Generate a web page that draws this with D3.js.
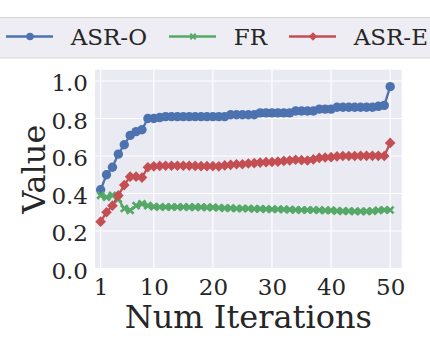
<!DOCTYPE html>
<html>
<head>
<meta charset="utf-8">
<script src="https://cdn.jsdelivr.net/npm/d3@7"></script>
<style>
  html, body { margin: 0; padding: 0; background: #fff; }
  svg { display: block; font-family: "DejaVu Serif", serif; }
</style>
</head>
<body>
<svg id="chart" width="430" height="344"></svg>
<script>
const iterations = d3.range(1, 51);
const asrO = [0.42, 0.50, 0.54, 0.61, 0.66, 0.71, 0.73, 0.74, 0.80, 0.80,
  0.805, 0.81, 0.81, 0.81, 0.81, 0.81, 0.81, 0.81, 0.81, 0.81,
  0.81, 0.81, 0.82, 0.82, 0.82, 0.82, 0.82, 0.83, 0.83, 0.83,
  0.83, 0.83, 0.83, 0.84, 0.84, 0.84, 0.84, 0.85, 0.85, 0.85,
  0.86, 0.86, 0.86, 0.86, 0.86, 0.86, 0.86, 0.865, 0.87, 0.97];
const fr = [0.39, 0.38, 0.39, 0.37, 0.32, 0.31, 0.335, 0.345, 0.335, 0.33,
  0.328, 0.328, 0.328, 0.328, 0.328, 0.327, 0.327, 0.327, 0.326, 0.326,
  0.324, 0.322, 0.322, 0.32, 0.32, 0.32, 0.318, 0.318, 0.317, 0.316,
  0.316, 0.315, 0.314, 0.313, 0.312, 0.312, 0.312, 0.311, 0.31, 0.31,
  0.307, 0.306, 0.306, 0.305, 0.305, 0.305, 0.306, 0.31, 0.312, 0.312];
const asrE = [0.25, 0.30, 0.335, 0.39, 0.445, 0.49, 0.49, 0.485, 0.54, 0.545,
  0.547, 0.548, 0.548, 0.548, 0.548, 0.548, 0.547, 0.546, 0.546, 0.546,
  0.545, 0.55, 0.553, 0.556, 0.556, 0.56, 0.562, 0.565, 0.567, 0.568,
  0.57, 0.574, 0.576, 0.58, 0.578, 0.576, 0.582, 0.59, 0.592, 0.594,
  0.598, 0.6, 0.6, 0.6, 0.601, 0.601, 0.601, 0.601, 0.6, 0.67];
const seriesNames = ["ASR-O", "FR", "ASR-E"];
const xTicks = [1, 10, 20, 30, 40, 50];
const yTicks = [0, 0.2, 0.4, 0.6, 0.8, 1.0];

const colors = { "ASR-O": "#4C72B0", "FR": "#55A868", "ASR-E": "#C44E52" };
const seriesData = { "ASR-O": asrO, "FR": fr, "ASR-E": asrE };

const svg = d3.select("#chart");
const m = { left: 95, right: 401.7, top: 69.75, bottom: 268.5 };

const x = d3.scaleLinear().domain([0.05, 51.95]).range([m.left, m.right]);
const y = d3.scaleLinear().domain([0, 1.06]).range([m.bottom, m.top]);

// background + grid
svg.append("rect")
  .attr("x", m.left).attr("y", m.top)
  .attr("width", m.right - m.left).attr("height", m.bottom - m.top)
  .attr("fill", "#EAEAF2");

svg.append("g").selectAll("line").data(xTicks).join("line")
  .attr("x1", d => x(d)).attr("x2", d => x(d))
  .attr("y1", m.top).attr("y2", m.bottom)
  .attr("stroke", "#fff").attr("stroke-width", 1.2);
svg.append("g").selectAll("line").data(yTicks).join("line")
  .attr("x1", m.left).attr("x2", m.right)
  .attr("y1", d => y(d)).attr("y2", d => y(d))
  .attr("stroke", "#fff").attr("stroke-width", 1.2);

// axes (labels only, no domain line)
const xAxis = svg.append("g")
  .attr("transform", `translate(0,${m.bottom})`)
  .call(d3.axisBottom(x).tickValues(xTicks).tickSize(0).tickPadding(10).tickFormat(d3.format("d")));
const yAxis = svg.append("g")
  .attr("transform", `translate(${m.left},0)`)
  .call(d3.axisLeft(y).tickValues(yTicks).tickSize(0).tickPadding(7).tickFormat(d3.format(".1f")));
[xAxis, yAxis].forEach(a => {
  a.select(".domain").remove();
  a.selectAll("text").attr("font-family", "DejaVu Serif").attr("font-size", 23).attr("fill", "#262626");
});
yAxis.selectAll("text").attr("dy", "0.42em");

svg.append("text")
  .attr("x", (m.left + m.right) / 2).attr("y", 328)
  .attr("text-anchor", "middle").attr("font-size", 32).attr("fill", "#262626")
  .text("Num Iterations");
svg.append("text")
  .attr("transform", `translate(45,${(m.top + m.bottom) / 2}) rotate(-90)`)
  .attr("text-anchor", "middle").attr("font-size", 32).attr("fill", "#262626")
  .text("Value");

// markers
const diamond = d3.symbol().type(d3.symbolDiamond2);
const cross = d3.symbol().type(d3.symbolX);

function drawMarker(sel, name, size) {
  if (name === "ASR-O") {
    sel.append("circle").attr("r", size * 4.7).attr("fill", colors[name]);
  } else if (name === "FR") {
    sel.append("path").attr("d", cross.size(size * size * 32)())
      .attr("fill", "none").attr("stroke", colors[name]).attr("stroke-width", size * 2.6);
  } else {
    sel.append("path").attr("d", diamond.size(size * size * 72)()).attr("fill", colors[name]);
  }
}

const line = d3.line().x((d, i) => x(iterations[i])).y(d => y(d));

seriesNames.forEach(name => {
  const g = svg.append("g");
  g.append("path").datum(seriesData[name])
    .attr("d", line).attr("fill", "none")
    .attr("stroke", colors[name]).attr("stroke-width", 2.3);
  g.selectAll("g").data(seriesData[name]).join("g")
    .attr("transform", (d, i) => `translate(${x(iterations[i])},${y(d)})`)
    .each(function() { drawMarker(d3.select(this), name, 1); });
});

// legend
const legend = svg.append("g");
legend.append("rect")
  .attr("x", -6).attr("y", 17.5).attr("width", 450).attr("height", 40.5)
  .attr("rx", 3).attr("fill", "#EDEDF3").attr("stroke", "#d6d6d6").attr("stroke-width", 1);

let lx = 6;
seriesNames.forEach(name => {
  const item = legend.append("g").attr("transform", `translate(${lx},36.5)`);
  item.append("line").attr("x1", 0).attr("x2", 47)
    .attr("stroke", colors[name]).attr("stroke-width", 2.3);
  const mk = item.append("g").attr("transform", "translate(24,0)");
  drawMarker(mk, name, 0.8);
  const t = item.append("text")
    .attr("x", 64.7).attr("y", 8.5)
    .attr("font-size", 23).attr("fill", "#262626")
    .text(name);
  lx += 64.7 + t.node().getComputedTextLength() + 22;
});
</script>
</body>
</html>
